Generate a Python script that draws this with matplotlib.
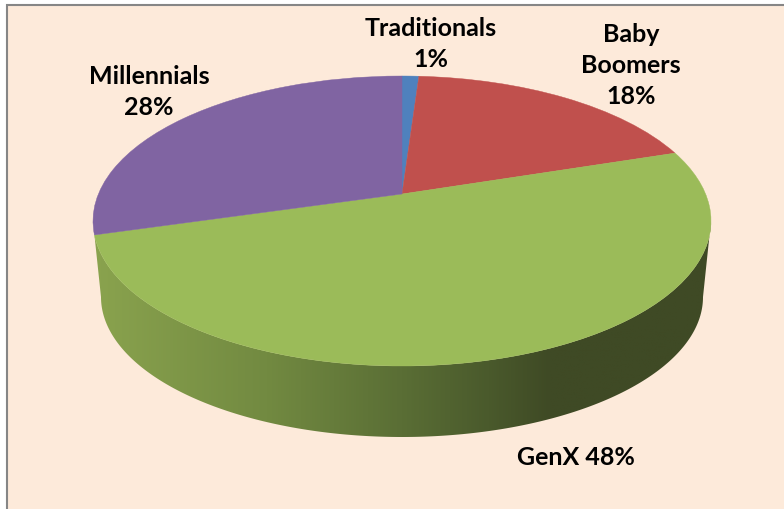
import numpy as np
import matplotlib
matplotlib.use("Agg")
import matplotlib.pyplot as plt
from matplotlib.colors import LinearSegmentedColormap
from matplotlib.patches import Polygon, Rectangle
from matplotlib.transforms import Transform

# Data
categories = ["Traditionals", "Baby\nBoomers", "GenX", "Millennials"]
values = [1, 18, 48, 28]
label_text = ["Traditionals\n1%", "Baby\nBoomers\n18%", "GenX 48%", "Millennials\n28%"]
colors = ["#4F81BD", "#C0504D", "#9BBB59", "#8064A2"]

W, H = 784, 510
plt.rcParams["font.family"] = ["Lato", "DejaVu Sans"]
fig = plt.figure(figsize=(W / 100, H / 100), dpi=100, facecolor="white")
ax = fig.add_axes([0, 0, 1, 1])


class Tilt(Transform):
    """Perspective view of a flat unit disc, output in figure pixels."""
    input_dims = output_dims = 2
    is_separable = False
    has_inverse = False

    def __init__(self, cx=402, cy=222, rx=309, ry=145, apex=27):
        super().__init__()
        self.k = apex / ry
        self.cx, self.cy, self.ry, self.apex = cx, cy, ry, apex
        self.a = rx * np.sqrt(1 - self.k ** 2)

    def transform_non_affine(self, xy):
        xy = np.asarray(xy, float)
        x, y = xy[:, 0], xy[:, 1]
        w = 1 + self.k * y
        return np.column_stack([self.cx + self.a * x / w,
                                self.cy - (self.ry * y + self.apex) / w])


tilt = Tilt()

# Top face
wedges, _ = ax.pie(values, colors=colors, startangle=90, counterclock=False,
                   wedgeprops=dict(linewidth=0.3))
for wedge, c in zip(wedges, colors):
    wedge.set_edgecolor(c)
    wedge.set_transform(tilt + ax.transData)
    wedge.set_zorder(3)

# Side wall of the GenX slice: from the rim's right extreme to the GenX/Millennials edge
frac = np.cumsum(values) / np.sum(values)
end_cw = 2 * np.pi * frac[2]
start_cw = np.pi / 2 + np.arcsin(tilt.k)
th = np.linspace(start_cw, end_cw, 240)
rim = tilt.transform(np.column_stack([np.sin(th), np.cos(th)]))
phi = np.linspace(np.pi, 0, 240)
low_cx, low_cy, low_rx, low_ry = 402, 298, 301, 140
low = np.column_stack([low_cx + low_rx * np.cos(phi), low_cy + low_ry * np.sin(phi)])
wall = Polygon(np.vstack([rim, low]), closed=True, transform=ax.transData,
               facecolor="none", edgecolor="none")
ax.add_patch(wall)

cmap = LinearSegmentedColormap.from_list(
    "wall", [(0.00, "#8AA34E"), (0.28, "#728A41"), (0.50, "#5A6E35"),
             (0.64, "#4A5A2C"), (0.74, "#3F4A25"), (1.00, "#3F4A25")])
grad = np.linspace(0, 1, 512).reshape(1, -1)
im = ax.imshow(grad, cmap=cmap, extent=(93, 711, 440, 220), aspect="auto",
               interpolation="bilinear", zorder=2)
im.set_clip_path(wall)

ax.set_xlim(0, W)
ax.set_ylim(H, 0)
ax.set_aspect("auto")
ax.set_axis_off()

# Panel
ax.add_patch(Rectangle((7.5, 5.5), W, H, facecolor="#FDEADA", edgecolor="#868686",
                       linewidth=1.5, zorder=0))

# Labels
label_pos = [(430.5, 44), (631, 65.5), (576, 458), (149, 92)]
for txt, (x, y) in zip(label_text, label_pos):
    ax.text(x, y, txt, ha="center", va="center", fontsize=18, fontweight="bold",
            color="black", linespacing=1.44, zorder=5)

fig.savefig("out.png", dpi=100, facecolor="white")
